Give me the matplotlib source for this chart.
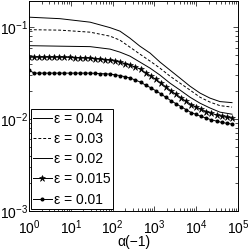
import numpy as np
import matplotlib
matplotlib.use("Agg")
import matplotlib.pyplot as plt
from matplotlib.ticker import LogLocator, LogFormatterSciNotation, NullFormatter

plt.rcParams['font.family'] = ['Liberation Sans', 'DejaVu Sans']
plt.rcParams['mathtext.fontset'] = 'custom'
plt.rcParams['mathtext.rm'] = 'Liberation Sans'
plt.rcParams['mathtext.it'] = 'Liberation Sans:italic'

# x grid for line-only curves
alpha_line = [1, 5.5, 29, 87, 150, 260, 450, 790, 1360, 2360, 4100, 7100,
              12300, 21400, 37000, 72000]
eps004 = [0.1284, 0.1237, 0.1133, 0.0988, 0.0905, 0.0759, 0.0621, 0.0522,
          0.0417, 0.0341, 0.0279, 0.0228, 0.0192, 0.0169, 0.0155, 0.0151]
eps003 = [0.0939, 0.0928, 0.0882, 0.0798, 0.0722, 0.0606, 0.0509, 0.0427,
          0.0358, 0.0293, 0.0246, 0.0207, 0.0173, 0.0153, 0.0140, 0.0135]
eps002 = [0.0629, 0.0621, 0.0614, 0.0577, 0.0535, 0.0484, 0.0417, 0.0358,
          0.0301, 0.0246, 0.0207, 0.0173, 0.0149, 0.0132, 0.0119, 0.0113]

# x grid for marker curves
alpha_mark = np.logspace(0, 4.85, 41)
eps0015 = [0.04720, 0.04720, 0.04720, 0.04720, 0.04720, 0.04720, 0.04720,
           0.04708, 0.04685, 0.04661, 0.04638, 0.04626, 0.04603, 0.04545,
           0.04489, 0.04433, 0.04378, 0.04270, 0.04165, 0.04011, 0.03864,
           0.03674, 0.03495, 0.03193, 0.02956, 0.02708, 0.02474, 0.02239,
           0.02031, 0.01861, 0.01704, 0.01561, 0.01438, 0.01351, 0.01272,
           0.01209, 0.01153, 0.01111, 0.01070, 0.01046, 0.01025]
eps001 = [0.03408, 0.03162, 0.03162, 0.03162, 0.03162, 0.03162, 0.03162,
          0.03162, 0.03162, 0.03162, 0.03162, 0.03162, 0.03162, 0.03147,
          0.03124, 0.03108, 0.03085, 0.03031, 0.02971, 0.02883, 0.02791,
          0.02654, 0.02525, 0.02342, 0.02195, 0.02036, 0.01884, 0.01726,
          0.01585, 0.01470, 0.01364, 0.01266, 0.01179, 0.01122, 0.01067,
          0.01023, 0.00980, 0.00951, 0.00921, 0.00900, 0.00882]

labels = ['ε = 0.04', 'ε = 0.03', 'ε = 0.02', 'ε = 0.015', 'ε = 0.01']
xticks = [1, 10, 100, 1e3, 1e4, 1e5]
yticks = [1e-3, 1e-2, 1e-1]

fs = 10
fig = plt.figure(figsize=(2.49, 2.50), dpi=100)
ax = fig.add_axes([29/249, 1-211/250, (238-29)/249, (211-0.5)/250])

lw = 0.7
ax.plot(alpha_line, eps004, '-', color='black', lw=lw, label=labels[0])
ax.plot(alpha_line, eps003, '--', color='black', lw=lw, dashes=(3, 2), label=labels[1])
ax.plot(alpha_line, eps002, '-', color='black', lw=lw, label=labels[2])
ax.plot(alpha_mark, eps0015, '-', color='black', lw=lw, marker='*', ms=4.5,
        mec='black', mfc='black', mew=0.4, label=labels[3])
ax.plot(alpha_mark, eps001, '-', color='black', lw=lw, marker='.', ms=3.8,
        mec='black', mfc='black', label=labels[4])

ax.set_xscale('log')
ax.set_yscale('log')
ax.set_xlim(1, 1e5)
ax.set_ylim(1e-3, 0.195)
ax.set_xticks(xticks)
ax.set_yticks(yticks)
ax.xaxis.set_major_formatter(LogFormatterSciNotation())
ax.yaxis.set_major_formatter(LogFormatterSciNotation())
ax.xaxis.set_minor_locator(LogLocator(base=10, subs=np.arange(2, 10), numticks=20))
ax.yaxis.set_minor_locator(LogLocator(base=10, subs=np.arange(2, 10), numticks=20))
ax.xaxis.set_minor_formatter(NullFormatter())
ax.yaxis.set_minor_formatter(NullFormatter())
ax.tick_params(which='both', direction='in', top=True, right=True,
               labelsize=fs, width=0.5, colors='black')
ax.tick_params(which='major', length=3.5)
ax.tick_params(which='minor', length=2)
ax.tick_params(axis='x', which='major', pad=5)
ax.tick_params(axis='y', which='major', pad=0.5)
for s in ax.spines.values():
    s.set_linewidth(0.7)

ax.set_xlabel('α(−1)', fontsize=fs, labelpad=-1)

leg = ax.legend(loc='lower left', bbox_to_anchor=(0.008, 0.008), borderaxespad=0,
                fontsize=fs, frameon=True, fancybox=False, framealpha=1,
                edgecolor='black', handlelength=1.3, handletextpad=0.15,
                labelspacing=0.45, borderpad=0.2)
leg.get_frame().set_linewidth(0.7)

fig.savefig('out.png', dpi=100)
